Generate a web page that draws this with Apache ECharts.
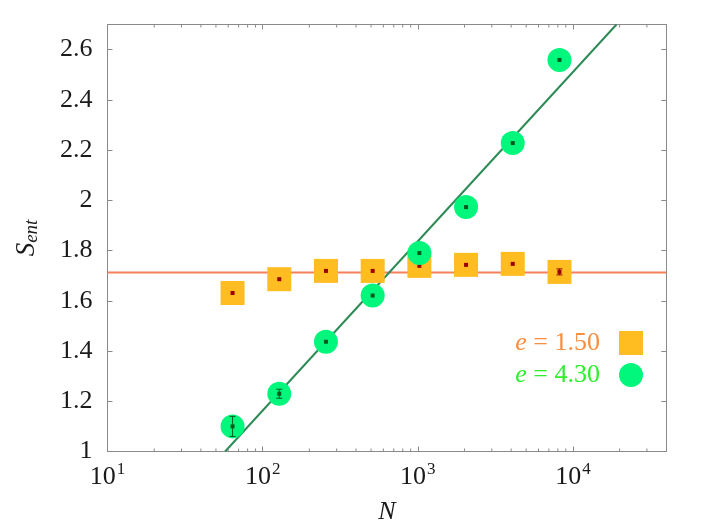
<!DOCTYPE html>
<html>
<head>
<meta charset="utf-8">
<script src="https://cdn.jsdelivr.net/npm/echarts@6/dist/echarts.min.js"></script>
<style>
html,body{margin:0;padding:0;background:#fff;}
#chart{width:710px;height:532px;}
</style>
</head>
<body>
<div id="chart"></div>
<script>
// ---- data ----
const sizesN = [64, 128, 256, 512, 1024, 2048, 4096, 8192];
const sEnt150 = [1.631, 1.686, 1.719, 1.719, 1.739, 1.743, 1.747, 1.715];
const sEnt150Err = [0.002, 0.002, 0.002, 0.002, 0.003, 0.003, 0.004, 0.012];
const sEnt430 = [1.100, 1.230, 1.437, 1.621, 1.790, 1.973, 2.228, 2.559];
const sEnt430Err = [0.040, 0.018, 0.004, 0.004, 0.004, 0.004, 0.004, 0.004];
// fitted lines (endpoints)
const fitLogN = [57.3, 19100];
const fitLogS = [1.0, 2.7];
const fitFlatN = [10, 40000];
const fitFlatS = [1.7125, 1.7125];
// axis ticks
const xDecades = [10, 100, 1000, 10000];
const xMinorMult = [2, 3, 4, 5, 6, 7, 8, 9];
const xMin = 10, xMax = 40000;
const yMin = 1, yMax = 2.7, yStep = 0.2;
const legendNames = ['e = 1.50', 'e = 4.30'];

const minorTicks = [];
xDecades.forEach(d => xMinorMult.forEach(m => { const v = d * m; if (v < xMax) minorTicks.push(v); }));

const FONT = 'Liberation Serif';
const AXIS_COLOR = '#8a8a8a';

function zip(a, b) { return a.map((v, i) => [v, b[i]]); }
function zip3(a, b, c) { return a.map((v, i) => [v, b[i], c[i]]); }

function errRender(color) {
  return function (params, api) {
    const x = api.value(0), y = api.value(1), e = api.value(2);
    const top = api.coord([x, y + e]);
    const bot = api.coord([x, y - e]);
    if (Math.abs(bot[1] - top[1]) < 4) return null;
    const hw = 3;
    const st = { stroke: color, lineWidth: 1 };
    return {
      type: 'group',
      children: [
        { type: 'line', shape: { x1: top[0], y1: top[1], x2: bot[0], y2: bot[1] }, style: st },
        { type: 'line', shape: { x1: top[0] - hw, y1: top[1], x2: top[0] + hw, y2: top[1] }, style: st },
        { type: 'line', shape: { x1: bot[0] - hw, y1: bot[1], x2: bot[0] + hw, y2: bot[1] }, style: st }
      ]
    };
  };
}

const chart = echarts.init(document.getElementById('chart'), null, { renderer: 'canvas' });

const xLabelFmt = function (v) {
  const e = Math.round(Math.log10(v));
  if (Math.abs(Math.pow(10, e) - v) > 1e-6 * v) return '';
  return '{b|10}{s|' + e + '}';
};

const option = {
  animation: false,
  backgroundColor: '#ffffff',
  grid: { left: 107.5, right: 43.7, top: 24.5, bottom: 80.5, containLabel: false },
  xAxis: [{
    type: 'log', logBase: 10, min: xMin, max: xMax, position: 'bottom',
    axisLine: { show: true, lineStyle: { color: AXIS_COLOR, width: 1 } },
    axisTick: { show: true, inside: true, length: 5, lineStyle: { color: AXIS_COLOR } },
    splitLine: { show: false },
    axisLabel: {
      formatter: xLabelFmt, margin: 10, showMaxLabel: false,
      rich: {
        b: { fontFamily: FONT, fontSize: 26, color: '#1a1a1a', verticalAlign: 'bottom' },
        s: { fontFamily: FONT, fontSize: 17, color: '#1a1a1a', verticalAlign: 'bottom', padding: [0, 0, 12, 1] }
      }
    },
    name: 'N', nameLocation: 'middle', nameGap: 48,
    nameTextStyle: { fontFamily: FONT, fontStyle: 'italic', fontSize: 26, color: '#1a1a1a' }
  }, {
    type: 'log', logBase: 10, min: xMin, max: xMax, position: 'top',
    axisLine: { show: true, lineStyle: { color: AXIS_COLOR, width: 1 } },
    axisTick: { show: true, inside: true, length: 5, lineStyle: { color: AXIS_COLOR } },
    axisLabel: { show: false }, splitLine: { show: false }
  }],
  yAxis: [{
    type: 'value', min: yMin, max: yMax, interval: yStep, position: 'left',
    axisLine: { show: true, lineStyle: { color: AXIS_COLOR, width: 1 } },
    axisTick: { show: true, inside: true, length: 5, lineStyle: { color: AXIS_COLOR } },
    splitLine: { show: false },
    axisLabel: { fontFamily: FONT, fontSize: 26, color: '#1a1a1a', margin: 15, showMaxLabel: false },
    name: '{s|S}{sub|ent}', nameLocation: 'middle', nameGap: 66, nameRotate: 90,
    nameTextStyle: {
      rich: {
        s: { fontFamily: FONT, fontStyle: 'italic', fontSize: 27, color: '#1a1a1a' },
        sub: { fontFamily: FONT, fontStyle: 'italic', fontSize: 19, color: '#1a1a1a', padding: [10, 0, 0, 0] }
      }
    }
  }, {
    type: 'value', min: yMin, max: yMax, interval: yStep, position: 'right',
    axisLine: { show: true, lineStyle: { color: AXIS_COLOR, width: 1 } },
    axisTick: { show: true, inside: true, length: 5, lineStyle: { color: AXIS_COLOR } },
    axisLabel: { show: false }, splitLine: { show: false }
  }],
  legend: {
    orient: 'vertical', right: 62, top: 325, align: 'right',
    itemWidth: 24, itemHeight: 24, itemGap: 6,
    data: [
      { name: legendNames[0], icon: 'rect', itemStyle: { opacity: 1 } },
      { name: legendNames[1], icon: 'circle', itemStyle: { opacity: 1 } }
    ],
    formatter: function (name) {
      const k = name === legendNames[0] ? 'o' : 'g';
      return '{' + k + 'e|e}{' + k + '|' + name.slice(1) + '}';
    },
    textStyle: {
      rich: {
        oe: { fontFamily: FONT, fontStyle: 'italic', fontSize: 26, color: '#f88e3e' },
        o: { fontFamily: FONT, fontSize: 26, color: '#f88e3e', padding: [0, 14, 0, 0] },
        ge: { fontFamily: FONT, fontStyle: 'italic', fontSize: 26, color: '#2cf02c' },
        g: { fontFamily: FONT, fontSize: 26, color: '#2cf02c', padding: [0, 14, 0, 0] }
      }
    }
  },
  series: [
    { type: 'line', name: 'flat fit', data: zip(fitFlatN, fitFlatS), symbol: 'none', silent: true,
      lineStyle: { color: '#f6805a', width: 2 }, z: 1 },
    { type: 'line', name: 'log fit', data: zip(fitLogN, fitLogS), symbol: 'none', silent: true,
      lineStyle: { color: '#2e8b57', width: 2 }, z: 1 },
    { type: 'scatter', name: 'minor bottom', data: minorTicks.map(v => [v, yMin]), symbol: 'rect',
      symbolSize: [1, 3], symbolOffset: [0, -1.5], itemStyle: { color: AXIS_COLOR, opacity: 1 }, silent: true, z: 1 },
    { type: 'scatter', name: 'minor top', data: minorTicks.map(v => [v, yMax]), symbol: 'rect',
      symbolSize: [1, 3], symbolOffset: [0, 1.5], itemStyle: { color: AXIS_COLOR, opacity: 1 }, silent: true, z: 1 },
    { type: 'scatter', name: legendNames[0], data: zip(sizesN, sEnt150), symbol: 'rect', symbolSize: 24,
      itemStyle: { color: '#ffbd22', opacity: 1 }, z: 2 },
    { type: 'scatter', name: 'dots150', data: zip(sizesN, sEnt150), symbol: 'rect', symbolSize: 4,
      itemStyle: { color: '#9b0000', opacity: 1 }, z: 3 },
    { type: 'custom', name: 'err150', data: zip3(sizesN, sEnt150, sEnt150Err), renderItem: errRender('#9b0000'),
      encode: { x: 0, y: 1 }, z: 3, silent: true },
    { type: 'scatter', name: legendNames[1], data: zip(sizesN, sEnt430), symbol: 'circle', symbolSize: 24,
      itemStyle: { color: '#00f77c', opacity: 1 }, z: 4 },
    { type: 'scatter', name: 'dots430', data: zip(sizesN, sEnt430), symbol: 'rect', symbolSize: 4,
      itemStyle: { color: '#005a1e', opacity: 1 }, z: 5 },
    { type: 'custom', name: 'err430', data: zip3(sizesN, sEnt430, sEnt430Err), renderItem: errRender('#005a1e'),
      encode: { x: 0, y: 1 }, z: 5, silent: true }
  ]
};
chart.setOption(option);
</script>
</body>
</html>
